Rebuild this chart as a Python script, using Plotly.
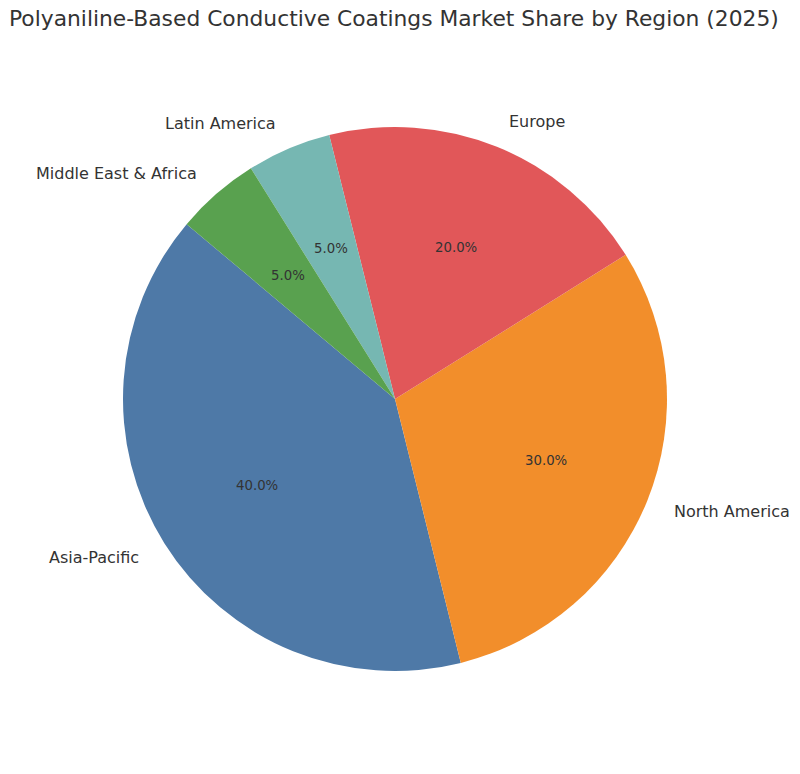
import math
import plotly.graph_objects as go

regions = ["Asia-Pacific", "North America", "Europe", "Latin America", "Middle East & Africa"]
shares = [40, 30, 20, 5, 5]
colors = ["#4e79a7", "#f28e2b", "#e15759", "#76b7b2", "#59a14f"]
title = "Polyaniline-Based Conductive Coatings Market Share by Region (2025)"

W, H = 800, 774
CX, CY, R = 395, 399, 272  # pixel center / radius of the pie
START = 140  # degrees, counterclockwise from 3 o'clock

total = sum(shares)
# plotly's counterclockwise mode places the first slice's clockwise edge at `rotation`
rot = (90 - START) - 360 * shares[0] / total
rot = ((rot + 180) % 360) - 180

fig = go.Figure(go.Pie(
    labels=regions, values=shares, sort=False, direction="counterclockwise",
    rotation=rot, marker=dict(colors=colors, line=dict(width=0)),
    textinfo="none", hoverinfo="label+percent", showlegend=False,
    domain=dict(x=[(CX - R) / W, (CX + R) / W], y=[(H - CY - R) / H, (H - CY + R) / H]),
))

font = "DejaVu Sans, sans-serif"
ang = START
annotations = []
for lab, v in zip(regions, shares):
    span = 360 * v / total
    mid = math.radians(ang + span / 2)
    ang += span
    lx = CX + 1.1 * R * math.cos(mid)
    ly = CY - 1.1 * R * math.sin(mid)
    annotations.append(dict(
        x=lx / W, y=1 - ly / H, xref="paper", yref="paper", text=lab, showarrow=False,
        xanchor="left" if math.cos(mid) > 0 else "right", yanchor="middle",
        font=dict(family=font, size=16, color="#333333"),
    ))
    px = CX + 0.6 * R * math.cos(mid)
    py = CY - 0.6 * R * math.sin(mid)
    annotations.append(dict(
        x=px / W, y=1 - py / H, xref="paper", yref="paper", text=f"{100 * v / total:.1f}%",
        showarrow=False, xanchor="center", yanchor="middle",
        font=dict(family=font, size=13.3, color="#333333"),
    ))

annotations.append(dict(
    x=394 / W, y=1 - 19 / H, xref="paper", yref="paper", text=title, showarrow=False,
    xanchor="center", yanchor="middle", font=dict(family=font, size=21.8, color="#333333"),
))

fig.update_layout(
    width=W, height=H, margin=dict(l=0, r=0, t=0, b=0),
    paper_bgcolor="white", plot_bgcolor="white", annotations=annotations,
)
fig.write_html("out.html", config={"displayModeBar": False},
               post_script="document.body.style.margin='0';document.body.style.overflow='hidden';")
